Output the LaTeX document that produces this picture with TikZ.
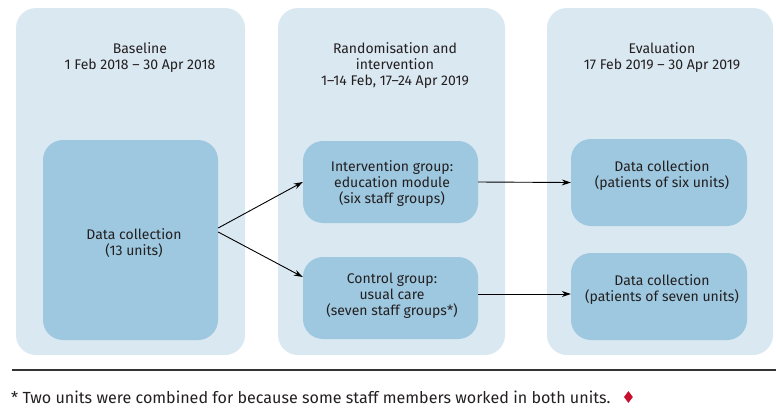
\documentclass[tikz,border=0pt]{standalone}
\usepackage{fontspec}
\setmainfont{Fira Sans}
\usetikzlibrary{arrows.meta,shapes.geometric,positioning}
\definecolor{panelfill}{HTML}{DAE8F1}
\definecolor{boxfill}{HTML}{9DC8E0}
\definecolor{inktext}{HTML}{231F20}
\definecolor{rulegray}{HTML}{333333}
\definecolor{markred}{HTML}{C8102E}
\begin{document}
\begin{tikzpicture}[x=1pt,y=-1pt,
  panel/.style={rectangle, rounded corners=20pt, fill=panelfill, draw=none, inner sep=0pt},
  stagebox/.style={rectangle, rounded corners=20pt, fill=boxfill, draw=none, inner sep=0pt},
  label/.style={align=center, text=inktext, font=\fontsize{14}{16}\selectfont, inner sep=0pt},
  flow/.style={-{Stealth[length=9pt,width=6pt]}, line width=0.9pt, draw=black}]
\useasboundingbox (0,0) rectangle (776,413);
% three stage panels
\node[panel, minimum width=229pt, minimum height=347pt] (p1) at (130.5,181.5) {};
\node[panel, minimum width=227pt, minimum height=347pt] (p2) at (391.5,181.5) {};
\node[panel, minimum width=226pt, minimum height=347pt] (p3) at (660,181.5) {};
% panel headings
\node[label] (h1) at (140,58) {Baseline\\1 Feb 2018 -- 30 Apr 2018};
\node[label] (h2) at (395,66) {Randomisation and\\intervention\\1--14 Feb, 17--24 Apr 2019};
\node[label] (h3) at (662,58) {Evaluation\\17 Feb 2019 -- 30 Apr 2019};
% inner boxes
\node[stagebox, minimum width=175pt, minimum height=200pt] (base) at (130.5,240) {};
\node[stagebox, minimum width=175pt, minimum height=82pt] (interv) at (390.5,182) {};
\node[stagebox, minimum width=175pt, minimum height=82pt] (ctrl) at (390.5,298) {};
\node[stagebox, minimum width=176pt, minimum height=87pt] (evtop) at (659,182.5) {};
\node[stagebox, minimum width=176pt, minimum height=87pt] (evbot) at (659,296.5) {};
% box texts
\node[label] (tbase) at (134,243) {Data collection\\(13 units)};
\node[label] (tinterv) at (392,184) {Intervention group:\\education module\\(six staff groups)};
\node[label] (tctrl) at (392,296) {Control group:\\usual care\\(seven staff groups*)};
\node[label] (tevtop) at (662,176) {Data collection\\(patients of six units)};
\node[label] (tevbot) at (662,290) {Data collection\\(patients of seven units)};
% connectors
\coordinate (s1) at ([yshift=12pt]base.east);
\coordinate (s2) at ([yshift=8pt]base.east);
\coordinate (e2) at ([yshift=21pt]ctrl.west);
\coordinate (c2) at ([yshift=4pt]ctrl.east);
\coordinate (d2) at ([yshift=2.5pt]evbot.west);
\draw[flow] (s1) -- (interv.west);
\draw[flow] (s2) -- (e2);
\draw[flow] (interv.east) -- (evtop.west);
\draw[flow] (c2) -- (d2);
% footnote
\draw[rulegray, line width=1.5pt] (12,370) coordinate (r1) -- (776,370) coordinate (r2);
\node[anchor=west, text=inktext, font=\fontsize{16.1}{18}\selectfont, inner sep=0pt] (note) at (11,397)
  {* Two units were combined for because some staff members worked in both units.};
\node[diamond, fill=markred, minimum width=9pt, minimum height=12pt, inner sep=0pt, right=13pt of note] (mark) {};
\end{tikzpicture}
\end{document}
